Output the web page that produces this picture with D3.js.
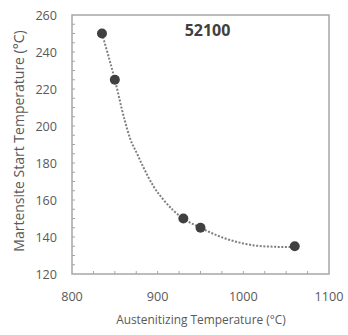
<!DOCTYPE html>
<html><head><meta charset="utf-8">
<script src="https://cdn.jsdelivr.net/npm/d3@7"></script>
<style>body{margin:0;background:#fff}svg{display:block}text{font-family:"Open Sans",sans-serif}</style>
</head><body><svg id="c" width="348" height="335"></svg>
<script>
// measured data points
const austenitizing = [835, 850, 930, 950, 1060];
const msTemp = [250, 225, 150, 145, 135];
// dotted trend curve
const trendX = [835, 850, 861, 868, 876, 883, 895, 907, 918, 930, 950, 977, 1000, 1023, 1060];
const trendY = [250, 225, 204, 193, 185, 178, 167.5, 160, 154.5, 150, 145, 139.5, 136.5, 135, 134.5];
const xTicks = [800, 900, 1000, 1100];
const yTicks = [120, 140, 160, 180, 200, 220, 240, 260];
const title = "52100";

const svg = d3.select("#c");
const m = {l:72, r:329, t:15, b:274};
const x = d3.scaleLinear().domain([800,1100]).range([m.l,m.r]);
const y = d3.scaleLinear().domain([120,260]).range([m.b,m.t]);
const grey = "#595959", axisC = "#a6a6a6";

// minor ticks (inward)
const g = svg.append("g");
d3.range(825,1100,25).forEach(v=>{
  g.append("line").attr("x1",x(v)).attr("x2",x(v)).attr("y1",m.b).attr("y2",m.b-3).attr("stroke",axisC).attr("stroke-width",1);
});
d3.range(125,260,5).forEach(v=>{
  g.append("line").attr("x1",m.l).attr("x2",m.l+3).attr("y1",y(v)).attr("y2",y(v)).attr("stroke",axisC).attr("stroke-width",1);
});
// frame
svg.append("rect").attr("x",m.l).attr("y",m.t).attr("width",m.r-m.l).attr("height",m.b-m.t)
  .attr("fill","none").attr("stroke",axisC).attr("stroke-width",1.5);

// tick labels
svg.append("g").selectAll("text").data(xTicks).join("text")
  .attr("x",d=>x(d)).attr("y",301).attr("text-anchor","middle").attr("fill",grey).attr("font-size",12.6).text(d=>d);
svg.append("g").selectAll("text").data(yTicks).join("text")
  .attr("x",57).attr("y",d=>y(d)+4.5).attr("text-anchor","end").attr("fill",grey).attr("font-size",12.6).text(d=>d);

// axis titles
svg.append("text").attr("x",201).attr("y",324).attr("text-anchor","middle").attr("fill",grey).attr("font-size",11.9)
  .text("Austenitizing Temperature (°C)");
svg.append("text").attr("transform",`translate(24,141) rotate(-90)`).attr("text-anchor","middle").attr("fill",grey).attr("font-size",14)
  .text("Martensite Start Temperature (°C)");

// chart title
svg.append("text").attr("x",207.5).attr("y",36).attr("text-anchor","middle").attr("fill","#404040").attr("font-size",16).attr("font-weight","bold").text(title);

// trend curve
svg.append("path").datum(trendX.map((v,i)=>[v,trendY[i]]))
  .attr("d",d3.line().x(d=>x(d[0])).y(d=>y(d[1])).curve(d3.curveMonotoneX))
  .attr("fill","none").attr("stroke","#7f7f7f").attr("stroke-width",2).attr("stroke-dasharray","2,1.6");

// points
svg.append("g").selectAll("circle").data(austenitizing.map((d,i)=>[d,msTemp[i]])).join("circle")
  .attr("cx",d=>x(d[0])).attr("cy",d=>y(d[1])).attr("r",5).attr("fill","#404040");
</script></body></html>
